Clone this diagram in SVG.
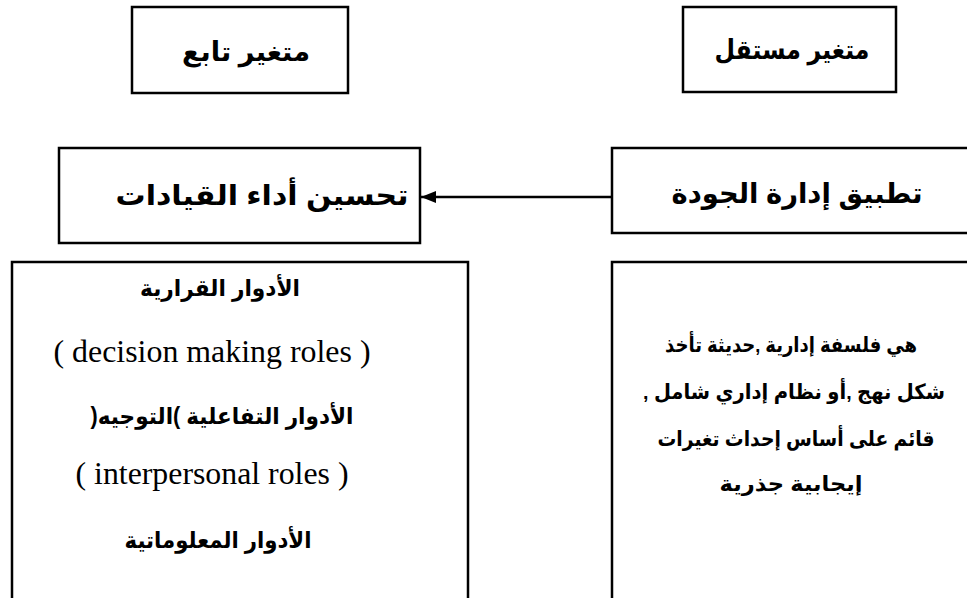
<svg xmlns="http://www.w3.org/2000/svg" width="967" height="598" viewBox="0 0 967 598">
  <style>
    .box { fill: #ffffff; stroke: #000000; stroke-width: 2.5; }
    .ar { font-family: "Liberation Sans", "DejaVu Sans", sans-serif; font-weight: bold; fill: #000000; direction: rtl; unicode-bidi: embed; text-anchor: middle; }
    .head { font-size: 27px; }
    .title { font-size: 28px; }
    .body { font-size: 23px; }
    .def { font-size: 21px; }
    .en { font-family: "Liberation Serif", "Times New Roman", serif; font-size: 32px; fill: #000000; text-anchor: middle; }
    .link { stroke: #000000; stroke-width: 2.5; fill: none; }
  </style>
  <defs>
    <marker id="arrowhead" markerWidth="16" markerHeight="12" refX="15" refY="6" orient="auto" markerUnits="userSpaceOnUse">
      <path d="M0,0 L15,6 L0,12 Z" fill="#000000"/>
    </marker>
  </defs>
  <rect width="967" height="598" fill="#ffffff"/>

  <g id="dependent-label">
    <rect class="box" x="132" y="7" width="216" height="86"/>
    <text class="ar head" x="246" y="61" textLength="128" lengthAdjust="spacingAndGlyphs">متغير تابع</text>
  </g>

  <g id="independent-label">
    <rect class="box" x="683" y="7" width="213" height="85"/>
    <text class="ar head" x="792" y="59" textLength="155" lengthAdjust="spacingAndGlyphs">متغير مستقل</text>
  </g>

  <g id="leadership-performance">
    <rect class="box" x="59" y="148" width="361" height="95"/>
    <text class="ar title" x="262" y="205" textLength="293" lengthAdjust="spacingAndGlyphs">تحسين أداء القيادات</text>
  </g>

  <g id="quality-management">
    <rect class="box" x="612" y="148" width="360" height="85"/>
    <text class="ar title" x="797" y="203" textLength="251" lengthAdjust="spacingAndGlyphs">تطبيق إدارة الجودة</text>
  </g>

  <g id="leadership-roles">
    <rect class="box" x="12" y="262" width="456" height="350"/>
    <text class="ar body" x="220" y="296" textLength="160" lengthAdjust="spacingAndGlyphs">الأدوار القرارية</text>
    <text class="en" x="212" y="362" textLength="317" lengthAdjust="spacingAndGlyphs">( decision making roles )</text>
    <text class="ar body" x="222" y="424" textLength="263" lengthAdjust="spacingAndGlyphs">الأدوار التفاعلية )التوجيه(</text>
    <text class="en" x="212" y="484" textLength="273" lengthAdjust="spacingAndGlyphs">( interpersonal roles )</text>
    <text class="ar body" x="218" y="548" textLength="187" lengthAdjust="spacingAndGlyphs">الأدوار المعلوماتية</text>
  </g>

  <g id="quality-definition">
    <rect class="box" x="612" y="262" width="360" height="350"/>
    <text class="ar def" x="791" y="352" textLength="252" lengthAdjust="spacingAndGlyphs">هي فلسفة إدارية ,حديثة تأخذ</text>
    <text class="ar def" x="794" y="399" textLength="302" lengthAdjust="spacingAndGlyphs">شكل نهج ,أو نظام إداري شامل ,</text>
    <text class="ar def" x="796" y="446" textLength="277" lengthAdjust="spacingAndGlyphs">قائم على أساس إحداث تغيرات</text>
    <text class="ar def" x="791" y="491" textLength="143" lengthAdjust="spacingAndGlyphs">إيجابية جذرية</text>
  </g>

  <g id="connectors">
    <line class="link" x1="612" y1="197" x2="421" y2="197" marker-end="url(#arrowhead)"/>
  </g>
</svg>
